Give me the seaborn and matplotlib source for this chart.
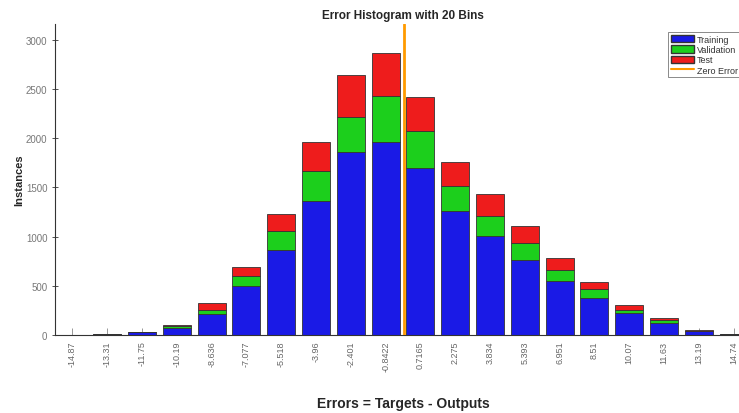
import pandas as pd
import matplotlib
matplotlib.use("Agg")
import matplotlib.pyplot as plt
import seaborn as sns
from matplotlib.patches import Patch
from matplotlib.lines import Line2D

# bin centres as printed on the x axis
bin_labels = ["-14.87", "-13.31", "-11.75", "-10.19", "-8.636", "-7.077", "-5.518",
              "-3.96", "-2.401", "-0.8422", "0.7165", "2.275", "3.834", "5.393",
              "6.951", "8.51", "10.07", "11.63", "13.19", "14.74"]
bin_centers = [float(s) for s in bin_labels]

training = [3, 7, 28, 71, 213, 494, 866, 1363, 1855, 1962, 1695, 1256, 1002,
            761, 551, 379, 220, 122, 36, 10]
validation = [1, 2, 3, 17, 41, 102, 187, 299, 361, 467, 373, 254, 203,
              170, 112, 85, 34, 27, 8, 2]
test = [1, 1, 3, 17, 68, 92, 175, 304, 424, 434, 355, 243, 226,
        179, 116, 71, 54, 21, 7, 2]

sets = ["Training", "Validation", "Test"]
colors = {"Training": "#1a1ae6", "Validation": "#1ccf1c", "Test": "#ee1c1c"}

rows = []
for name, vals in zip(sets, [training, validation, test]):
    for c, v in zip(bin_centers, vals):
        rows.append({"error": c, "count": v, "set": name})
df = pd.DataFrame(rows)

step = (bin_centers[-1] - bin_centers[0]) / (len(bin_centers) - 1)
edges = [bin_centers[0] - step / 2 + i * step for i in range(len(bin_centers) + 1)]

sns.set_style("white")
plt.rcParams['font.family'] = ['Liberation Sans', 'DejaVu Sans']

fig = plt.figure(figsize=(7.39, 4.14), dpi=100)
ax = fig.add_axes([55 / 739, 78 / 414, 696 / 739, 311 / 414])

# seaborn stacks the first hue level on top, so reverse to keep Training at the bottom
sns.histplot(data=df, x="error", weights="count", hue="set", hue_order=sets[::-1],
             bins=edges, multiple="stack", shrink=0.81, palette=colors,
             alpha=1, edgecolor="#333333", linewidth=0.6, legend=False, ax=ax)

ax.axvline(0, color="#ff9a00", lw=2, zorder=5)

ax.set_xlim(edges[0], edges[-1])
ax.set_ylim(0, 3160)
ax.set_xticks(bin_centers)
ax.set_xticklabels(bin_labels, rotation=90, fontsize=6.5)
ax.set_yticks([0, 500, 1000, 1500, 2000, 2500, 3000])
ax.tick_params(axis="y", labelsize=7, colors="#333333", labelcolor="#777777",
               direction="inout", length=4, width=0.6, left=True)
ax.tick_params(axis="x", direction="in", length=5, width=0.6, bottom=True,
               colors="#888888", labelcolor="#666666", pad=4)

sns.despine(ax=ax, top=True, right=True)
ax.spines["left"].set_color("#333333")
ax.spines["bottom"].set_color("#333333")
ax.spines["left"].set_linewidth(0.8)
ax.spines["bottom"].set_linewidth(0.8)

ax.set_title("Error Histogram with 20 Bins", fontsize=8.5, fontweight="bold", pad=4)
ax.set_xlabel("Errors = Targets - Outputs", fontsize=10, fontweight="bold", labelpad=18)
ax.set_ylabel("Instances", fontsize=8, fontweight="bold", labelpad=1)

handles = [Patch(facecolor=colors[s], edgecolor="#333333", label=s) for s in sets]
handles.append(Line2D([0], [0], color="#ff9a00", lw=1.5, label="Zero Error"))
leg = ax.legend(handles=handles, loc="upper left", bbox_to_anchor=(613 / 696, 1 - 8 / 311),
                fontsize=6.5, frameon=True, fancybox=False, edgecolor="#555555",
                handlelength=2.6, handleheight=0.9, borderpad=0.3, labelspacing=0.15,
                handletextpad=0.3, borderaxespad=0)
leg.get_frame().set_linewidth(0.6)
for t in leg.get_texts():
    t.set_color("#333333")

plt.savefig("out.png", dpi=100)
